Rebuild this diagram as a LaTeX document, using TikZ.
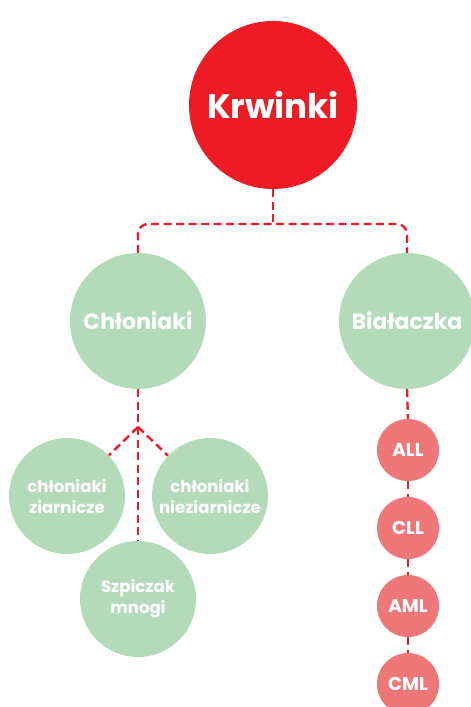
\documentclass[tikz,border=0pt]{standalone}
\usepackage{fontspec}
\setmainfont{Poppins}
\definecolor{kred}{HTML}{ED1C24}
\definecolor{kgreen}{HTML}{B3DBB9}
\definecolor{kpink}{HTML}{F07779}
\begin{document}
\begin{tikzpicture}[x=1pt,y=-1pt,
  bubble/.style={circle,inner sep=0pt,text=white,font=\bfseries,align=center},
  big/.style={bubble,fill=kgreen,minimum size=136pt,font=\bfseries\fontsize{22}{26}\selectfont},
  mid/.style={bubble,fill=kgreen,minimum size=116pt,font=\bfseries\fontsize{16.5}{21}\selectfont},
  small/.style={bubble,fill=kpink,minimum size=62pt,font=\bfseries\fontsize{18.5}{20}\selectfont},
  conn/.style={draw=kred,line width=2.4pt,dash pattern=on 8pt off 4.5pt}]
\fill[white] (0,0) rectangle (471,707);
\useasboundingbox (0,0) rectangle (471,707);
\node[bubble,fill=kred,minimum size=168pt,font=\bfseries\fontsize{34}{40}\selectfont] (kr) at (273,105) {Krwinki};
\node[big] (ch) at (138,321) {Chłoniaki};
\node[big] (bi) at (407,321) {Białaczka};
\node[mid] (zi) at (67,496) {chłoniaki\\ziarnicze};
\node[mid] (ni) at (210,496) {chłoniaki\\nieziarnicze};
\node[mid] (sz) at (138,599) {Szpiczak\\mnogi};
\node[small] (all) at (408,450) {ALL};
\node[small] (cll) at (408,528) {CLL};
\node[small] (aml) at (408,606) {AML};
\node[small] (cml) at (408,684) {CML};
\coordinate (split) at (273,224);
\coordinate (j) at (138,427);
\draw[conn] (kr.south) -- (split);
\draw[conn,rounded corners=10pt] (ch.north) |- (split) -| (bi.north);
\draw[conn] (ch.south) -- (j);
\draw[conn] (j) -- (sz.north);
\draw[conn] (j) -- (zi);
\draw[conn] (j) -- (ni);
\draw[conn] (bi.south) -- (all.north);
\draw[conn] (all.south) -- (cll.north);
\draw[conn] (cll.south) -- (aml.north);
\draw[conn] (aml.south) -- (cml.north);
\end{tikzpicture}
\end{document}
